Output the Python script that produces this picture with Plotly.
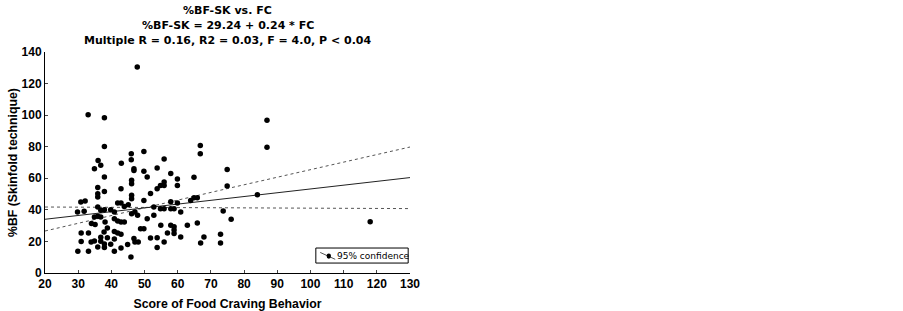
import plotly.graph_objects as go

# Scatter data: Score of Food Craving Behavior (FC) vs %BF (skinfold)
fc = [33, 37.9, 47.8, 37.9, 46, 46, 49.8, 36, 34.9, 36.8, 43, 46.8, 46.8, 49.8, 53.8, 55.9, 57.9,
      66.8, 66.8, 74.9, 37.9, 50.8, 64.9,
      29.9, 30.9, 30.9, 29.8, 31.8, 30.8, 32.1, 33.1, 33.1, 33.9, 34, 35.1, 34.9, 35.9, 35.9, 35.9,
      35.9, 35.9, 37.9, 36.8, 36.8, 37.9, 38.1, 38.8, 39.8, 37.8, 34.9, 35.9, 36.8, 36.8, 37.9, 37.9,
      38.8, 39.8, 40.9, 40.9, 40.9, 41.9, 42.9, 42.9, 44.9, 45.9, 40.9, 41.9, 42.9, 43.9, 40.9, 41.9,
      42.9, 43.9, 45.1, 42.9, 46.1, 46.1, 46.1, 46.1, 46.1, 47.1, 47.9, 46.8, 47.1, 48.1, 48.8, 49.8,
      49.8, 50.8, 51.8, 52.8, 52.8, 51.8, 53.8, 53.8, 53.8, 54.8, 55.9, 55.9, 54.8, 55.9, 54.9, 55.9,
      56.9, 57.9, 57.9, 58.9, 57.9, 58.9, 58.9, 58.9, 59.9, 59.9, 59.9, 60.9, 60.9, 62.9, 63.9, 64.9,
      65.9, 65.9, 66.9, 67.9, 72.9, 72.9, 73.7, 74.9, 84, 76.1, 118, 86.9, 86.9]
bf = [100.3, 98.4, 130.5, 80.2, 75.6, 71.8, 76.9, 71.2, 66.1, 68.2, 69.5, 66.1, 65, 64.4, 66.5, 72.2, 63.1,
      80.7, 75.6, 65.5, 60.8, 60.8, 60.6,
      13.7, 19.9, 25.3, 38.6, 39.1, 45, 45.6, 13.7, 25.3, 19.6, 31.3, 30.8, 35.5, 35.9, 41.8, 48.1,
      50.2, 54.1, 51.7, 39.7, 35.5, 40, 32.3, 28.5, 40.1, 26, 20.3, 16.5, 20.1, 22.6, 18.3, 16.2,
      22.4, 18.2, 13.7, 21.5, 26.3, 25.3, 24.5, 15.8, 18, 10.1, 34.3, 32.9, 32.3, 32.3, 38.6, 44.3,
      44.3, 42.2, 43.3, 53.4, 58.7, 56.6, 49.2, 47.1, 37.6, 38.6, 36.6, 21.8, 19.7, 19.7, 28.1, 28.1,
      46, 34.4, 50.3, 41.8, 36.6, 22.2, 22.4, 16.1, 53.4, 55.5, 55.5, 57.6, 40.7, 40.7, 30.2, 19.7,
      25.3, 45.2, 40.7, 40.7, 30.2, 29.3, 27.2, 25.1, 59.6, 55.5, 44.3, 38.6, 22.8, 30.2, 46, 47.7,
      47.7, 31.7, 19, 22.8, 24.5, 19, 39.3, 55.1, 49.6, 34, 32.5, 96.7, 79.6]

# Regression: %BF-SK = 29.24 + 0.24 * FC
intercept = 29.24
slope = 0.24
line_x = [20, 130]

# 95% confidence lines
band_x = [20, 75, 130]
band_a = [41.8, 41.3, 40.8]
band_b = [26.6, 53.5, 79.8]

title_lines = ["%BF-SK vs. FC", "%BF-SK = 29.24 + 0.24 * FC",
               "Multiple R = 0.16, R2 = 0.03, F = 4.0, P < 0.04"]
legend_label = "95% confidence"
x_ticks = list(range(20, 131, 10))
y_ticks = list(range(0, 141, 20))

fig = go.Figure()
fig.add_trace(go.Scatter(x=band_x, y=band_a, mode="lines",
                         line=dict(color="#555", width=1, dash="dot"), showlegend=False))
fig.add_trace(go.Scatter(x=band_x, y=band_b, mode="lines",
                         line=dict(color="#555", width=1, dash="dot"), showlegend=False))
fig.add_trace(go.Scatter(x=line_x, y=[intercept + slope * v for v in line_x], mode="lines",
                         line=dict(color="#222", width=1), showlegend=False))
fig.add_trace(go.Scatter(x=fc, y=bf, mode="markers",
                         marker=dict(color="black", size=5.5), showlegend=False))

font = "Liberation Sans, Arial, sans-serif"
tfont = "DejaVu Sans, sans-serif"
fig.update_layout(
    width=903, height=311,
    margin=dict(l=45, r=493, t=52, b=38),
    paper_bgcolor="white", plot_bgcolor="white",
    font=dict(family=font, color="black"),
    showlegend=False,
)
for i, t in enumerate(title_lines):
    fig.add_annotation(text=t, xref="paper", yref="paper", x=0.5, y=1,
                       yshift=52 - 10.5 - 15 * i, showarrow=False, yanchor="middle",
                       font=dict(size=11, family=tfont, weight="bold"))

# legend box (drawn manually to match the small boxed key)
lx0, lx1, ly0, ly1 = 0.742, 0.995, 0.045, 0.113
fig.add_shape(type="rect", xref="paper", yref="paper", x0=lx0, x1=lx1, y0=ly0, y1=ly1,
              line=dict(color="black", width=1), fillcolor="white", layer="above")
fig.add_shape(type="line", xref="paper", yref="paper", x0=0.754, y0=0.093, x1=0.795, y1=0.062,
              line=dict(color="#555", width=1), layer="above")
fig.add_shape(type="circle", xref="paper", yref="paper", x0=0.7715, x1=0.7835, y0=0.065, y1=0.088,
              line=dict(color="black", width=0), fillcolor="black", layer="above")
fig.add_annotation(text=legend_label, xref="paper", yref="paper", x=0.794, y=0.079,
                   xanchor="left", yanchor="middle", showarrow=False,
                   font=dict(size=9, family=tfont))

fig.update_xaxes(range=[20, 130], tickvals=x_ticks, ticks="inside", ticklen=3,
                 showline=True, linecolor="black", linewidth=1, showgrid=False,
                 zeroline=False, mirror=False, automargin=False,
                 tickfont=dict(size=12, weight="bold"),
                 title=dict(text="Score of Food Craving Behavior", standoff=8,
                            font=dict(size=12.3, weight="bold")))
fig.update_yaxes(range=[0, 140], tickvals=y_ticks, ticks="inside", ticklen=3,
                 showline=True, linecolor="black", linewidth=1, showgrid=False,
                 zeroline=False, mirror=False, automargin=False,
                 tickfont=dict(size=12, weight="bold"),
                 title=dict(text="%BF (Skinfold technique)", standoff=1,
                            font=dict(size=12.3, weight="bold")))
# remove the browser's default 8px body margin so the figure sits at the page corner
fig.write_html("out.html", config={"displayModeBar": False},
               post_script="document.body.style.margin='0';")
